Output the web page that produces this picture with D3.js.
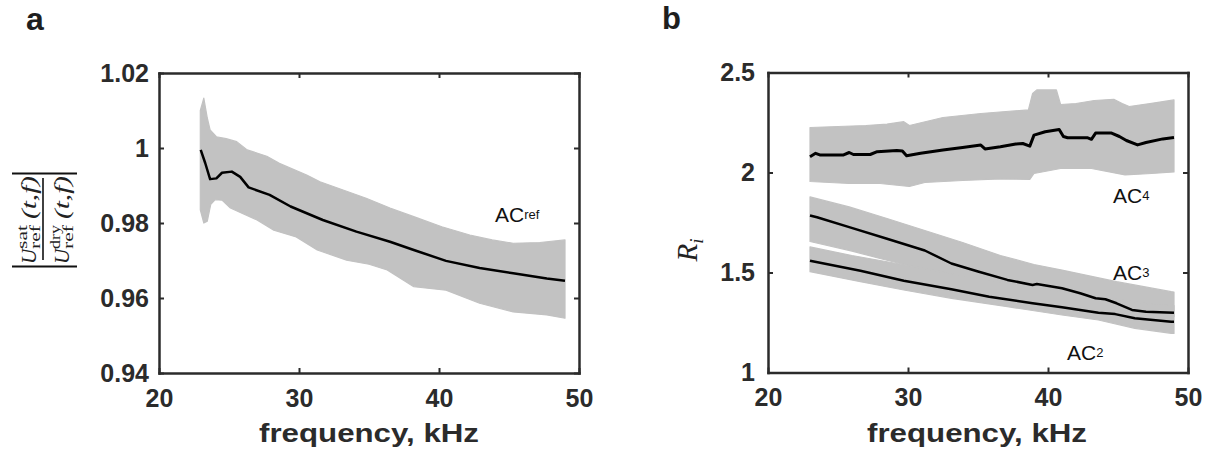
<!DOCTYPE html>
<html>
<head>
<meta charset="utf-8">
<script src="https://cdn.jsdelivr.net/npm/d3@7"></script>
<style>
  body { margin: 0; background: #fff; }
  svg { display: block; }
</style>
</head>
<body>
<div id="chart"></div>
<script>
// ---- data ([frequency kHz, value]) ----
const xTickValues = [20, 30, 40, 50];
const xTickLabels = ["20", "30", "40", "50"];
const yTickValuesA = [0.94, 0.96, 0.98, 1, 1.02];
const yTickLabelsA = ["0.94", "0.96", "0.98", "1", "1.02"];
const yTickValuesB = [1, 1.5, 2, 2.5];
const yTickLabelsB = ["1", "1.5", "2", "2.5"];

// panel a: AC_ref, mean curve and envelope of the individual curves
const refMean = [[22.98,0.9995],[23.3,0.996],[23.65,0.9917],[24.1,0.9919],[24.5,0.9934],[25.2,0.9937],
  [25.8,0.9923],[26.4,0.9895],[27.9,0.9875],[29.4,0.9844],[31.7,0.9808],[34.1,0.9777],[36.5,0.9750],
  [38.2,0.9728],[40.5,0.9699],[42.9,0.9680],[45.3,0.9666],[47.7,0.9652],[49.0,0.9646]];
const refUpper = [[22.95,1.0100],[23.2,1.0133],[23.45,1.0080],[23.65,1.0048],[24.1,1.0030],[24.8,1.0025],
  [25.55,1.0017],[26.3,0.9995],[27.7,0.9978],[28.6,0.9959],[30.55,0.9928],[31.5,0.9910],[33.0,0.9890],
  [34.8,0.9866],[36.5,0.9840],[38.2,0.9817],[40.2,0.9790],[42.2,0.9768],[43.8,0.9755],[45.3,0.9746],
  [47.2,0.9748],[49.0,0.9755]];
const refLower = [[22.95,0.9835],[23.2,0.9800],[23.45,0.9805],[23.7,0.9850],[24.0,0.9862],[24.5,0.9861],
  [25.1,0.9840],[26.0,0.9825],[27.0,0.9808],[28.2,0.9781],[29.8,0.9763],[31.3,0.9728],[33.4,0.9701],
  [35.0,0.9690],[36.3,0.9675],[38.2,0.9630],[40.5,0.9621],[42.9,0.9586],[45.3,0.9563],[47.7,0.9555],
  [49.0,0.9546]];

// panel b: R_i for AC4, AC3, AC2
const ac4Mean = [[23.0,2.079],[23.4,2.096],[23.7,2.088],[25.4,2.088],[25.8,2.100],[26.1,2.090],[27.3,2.090],
  [27.8,2.104],[29.2,2.110],[29.6,2.108],[29.9,2.084],[30.9,2.096],[32.5,2.112],[33.9,2.125],[35.2,2.137],
  [35.5,2.118],[36.6,2.129],[37.7,2.142],[38.2,2.145],[38.7,2.132],[39.0,2.187],[39.8,2.204],[40.8,2.215],
  [41.1,2.180],[41.4,2.174],[42.8,2.174],[43.1,2.166],[43.4,2.197],[44.5,2.198],[45.1,2.180],[45.6,2.160],
  [46.4,2.138],[47.0,2.150],[48.2,2.168],[49.0,2.175]];
const ac4Upper = [[23.0,2.225],[25.0,2.230],[27.0,2.235],[28.5,2.242],[29.7,2.254],[30.1,2.235],[31.0,2.250],
  [32.5,2.275],[35.2,2.295],[37.0,2.305],[38.6,2.313],[38.9,2.395],[39.2,2.413],[40.6,2.413],[40.9,2.340],
  [42.0,2.345],[43.3,2.360],[44.7,2.366],[45.3,2.345],[45.8,2.330],[47.4,2.346],[49.0,2.363]];
const ac4Lower = [[23.0,1.955],[25.8,1.945],[28.0,1.945],[30.1,1.930],[31.2,1.950],[33.9,1.960],[36.6,1.968],
  [38.7,1.965],[39.0,1.995],[40.9,2.020],[43.1,2.020],[45.5,1.988],[47.4,1.995],[49.0,2.003]];

const ac3Mean = [[23.0,1.785],[23.5,1.776],[25.8,1.727],[28.5,1.669],[31.2,1.610],[33.1,1.545],[35.0,1.505],
  [37.1,1.463],[38.9,1.438],[39.2,1.442],[41.0,1.421],[42.3,1.396],[43.4,1.371],[44.1,1.366],[44.9,1.346],
  [46.0,1.313],[47.0,1.304],[49.0,1.299]];
const ac3Upper = [[23.0,1.878],[25.8,1.828],[28.5,1.770],[31.2,1.710],[33.9,1.650],[36.6,1.585],[39.0,1.540],
  [41.0,1.512],[44.9,1.454],[48.8,1.404],[49.0,1.402]];
const ac3Lower = [[23.0,1.655],[26.0,1.607],[28.0,1.570],[30.0,1.535],[33.0,1.490],[36.0,1.445],[39.0,1.400],
  [42.0,1.360],[45.0,1.315],[47.0,1.290],[49.0,1.280]];

const ac2Mean = [[23.0,1.559],[26.6,1.509],[29.7,1.459],[33.1,1.416],[35.8,1.379],[38.9,1.346],[41.0,1.326],
  [43.6,1.299],[44.8,1.292],[46.2,1.271],[48.8,1.254],[49.0,1.254]];
const ac2Upper = [[23.0,1.628],[26.0,1.585],[28.0,1.560],[30.0,1.535],[33.0,1.495],[36.0,1.460],[39.0,1.425],
  [42.0,1.395],[45.0,1.365],[47.0,1.345],[49.0,1.335]];
const ac2Lower = [[23.0,1.504],[26.6,1.454],[29.7,1.4125],[33.1,1.371],[37.1,1.329],[41.0,1.2875],
  [43.6,1.2625],[46.2,1.221],[48.8,1.196],[49.0,1.195]];

const svg = d3.select("#chart")
  .append("svg")
  .attr("width", 1215)
  .attr("height", 457);

const ink = "#2b2b2b";
const grey = "#c2c2c2";
const sansBold = "'Liberation Sans', Arial, sans-serif";
const serif = "'Liberation Serif', 'Times New Roman', serif";

// draws the boxed MATLAB-style axes, returns nothing
function drawAxes(x, y, yTicks, yLabels, yPad) {
  const [x0, x1] = x.range();
  const [y0, y1] = y.range();   // y0 bottom, y1 top

  const bottom = svg.append("g")
    .attr("transform", `translate(0,${y0})`)
    .call(d3.axisBottom(x).tickValues(xTickValues).tickFormat((d, i) => xTickLabels[i])
      .tickSizeInner(-5).tickSizeOuter(0).tickPadding(16));
  const left = svg.append("g")
    .attr("transform", `translate(${x0},0)`)
    .call(d3.axisLeft(y).tickValues(yTicks).tickFormat((d, i) => yLabels[i])
      .tickSizeInner(-5).tickSizeOuter(0).tickPadding(yPad));
  const top = svg.append("g")
    .attr("transform", `translate(0,${y1})`)
    .call(d3.axisTop(x).tickValues(xTickValues).tickFormat("").tickSizeInner(-5).tickSizeOuter(0));
  const right = svg.append("g")
    .attr("transform", `translate(${x1},0)`)
    .call(d3.axisRight(y).tickValues(yTicks).tickFormat("").tickSizeInner(-5).tickSizeOuter(0));

  [bottom, left, top, right].forEach(g => {
    g.attr("color", ink)
      .attr("font-family", sansBold)
      .attr("font-weight", "bold")
      .attr("font-size", 25);
    g.select(".domain").attr("stroke-width", 2.5).attr("stroke-linecap", "square");
    g.selectAll(".tick line").attr("stroke-width", 2);
  });
}

function band(x, y, upper, lower) {
  const line = d3.line().x(d => x(d[0])).y(d => y(d[1]));
  svg.append("path")
    .attr("d", line(upper.concat(lower.slice().reverse())) + "Z")
    .attr("fill", grey)
    .attr("stroke", grey)
    .attr("stroke-width", 1.2)
    .attr("stroke-linejoin", "round");
}

function meanLine(x, y, data, w) {
  const line = d3.line().x(d => x(d[0])).y(d => y(d[1]));
  svg.append("path")
    .attr("d", line(data))
    .attr("fill", "none")
    .attr("stroke", "#000")
    .attr("stroke-width", w)
    .attr("stroke-linejoin", "round");
}

function acLabel(xp, yp, sub) {
  const t = svg.append("text")
    .attr("x", xp).attr("y", yp)
    .attr("font-family", "'Liberation Sans', Arial, sans-serif")
    .attr("font-size", 21)
    .attr("fill", "#111")
    .text("AC");
  t.append("tspan").attr("font-size", 13).attr("dy", -3).text(sub);
}

function xLabel(cx) {
  svg.append("text")
    .attr("x", cx).attr("y", 442)
    .attr("text-anchor", "middle")
    .attr("font-family", sansBold)
    .attr("font-weight", "bold")
    .attr("font-size", 26)
    .attr("fill", ink)
    .attr("textLength", 220)
    .attr("lengthAdjust", "spacingAndGlyphs")
    .text("frequency, kHz");
}

// ---- panel a ----
const xA = d3.scaleLinear().domain([20, 50]).range([159, 579]);
const yA = d3.scaleLinear().domain([0.94, 1.02]).range([373, 73]);

band(xA, yA, refUpper, refLower);
meanLine(xA, yA, refMean, 2.5);
drawAxes(xA, yA, yTickValuesA, yTickLabelsA, 10);
xLabel(369);
acLabel(495, 222, "ref");

svg.append("text")
  .attr("x", 26).attr("y", 30)
  .attr("font-family", sansBold).attr("font-weight", "bold")
  .attr("font-size", 32).attr("fill", "#1e1e1e")
  .text("a");

// y label: |U_ref^sat(t,f) / U_ref^dry(t,f)|
const fracG = svg.append("g").attr("transform", "translate(43,220) rotate(-90)");
[-46.5, 46.5].forEach(xx => {
  fracG.append("line")
    .attr("x1", xx).attr("x2", xx).attr("y1", -31).attr("y2", 34)
    .attr("stroke", "#111").attr("stroke-width", 2.2);
});
fracG.append("line")
  .attr("x1", -40).attr("x2", 42).attr("y1", 0).attr("y2", 0)
  .attr("stroke", "#111").attr("stroke-width", 1.6);

function fracPart(base, sup) {
  fracG.append("text").attr("x", -44).attr("y", base)
    .attr("font-family", serif).attr("font-style", "italic").attr("font-size", 21)
    .attr("fill", "#222").text("U");
  fracG.append("text").attr("x", -29).attr("y", base - 9)
    .attr("font-family", serif).attr("font-size", 15).attr("fill", "#222")
    .attr("textLength", 24).attr("lengthAdjust", "spacingAndGlyphs").text(sup);
  fracG.append("text").attr("x", -29).attr("y", base + 4)
    .attr("font-family", serif).attr("font-size", 15).attr("fill", "#222")
    .attr("textLength", 24).attr("lengthAdjust", "spacingAndGlyphs").text("ref");
  fracG.append("text").attr("x", 1).attr("y", base)
    .attr("font-family", serif).attr("font-style", "italic").attr("font-size", 21)
    .attr("fill", "#222").attr("textLength", 43).attr("lengthAdjust", "spacingAndGlyphs")
    .text("(t,f)");
}
fracPart(-7, "sat");
fracPart(26, "dry");

// ---- panel b ----
const xB = d3.scaleLinear().domain([20, 50]).range([768, 1188]);
const yB = d3.scaleLinear().domain([1, 2.5]).range([372.5, 72.5]);

band(xB, yB, ac4Upper, ac4Lower);
band(xB, yB, ac3Upper, ac3Lower);
band(xB, yB, ac2Upper, ac2Lower);
meanLine(xB, yB, ac4Mean, 3);
meanLine(xB, yB, ac3Mean, 2.5);
meanLine(xB, yB, ac2Mean, 2.5);
drawAxes(xB, yB, yTickValuesB, yTickLabelsB, 13);
xLabel(977);
acLabel(1113, 203, "4");
acLabel(1113, 280, "3");
acLabel(1067, 360, "2");

svg.append("text")
  .attr("x", 662).attr("y", 29)
  .attr("font-family", sansBold).attr("font-weight", "bold")
  .attr("font-size", 31).attr("fill", "#1e1e1e")
  .text("b");

const rLabel = svg.append("text")
  .attr("transform", "translate(697,250) rotate(-90)")
  .attr("text-anchor", "middle")
  .attr("font-family", serif).attr("font-style", "italic")
  .attr("font-size", 29).attr("fill", "#222")
  .text("R");
rLabel.append("tspan").attr("font-size", 19).attr("dy", 6).text("i");
</script>
</body>
</html>
